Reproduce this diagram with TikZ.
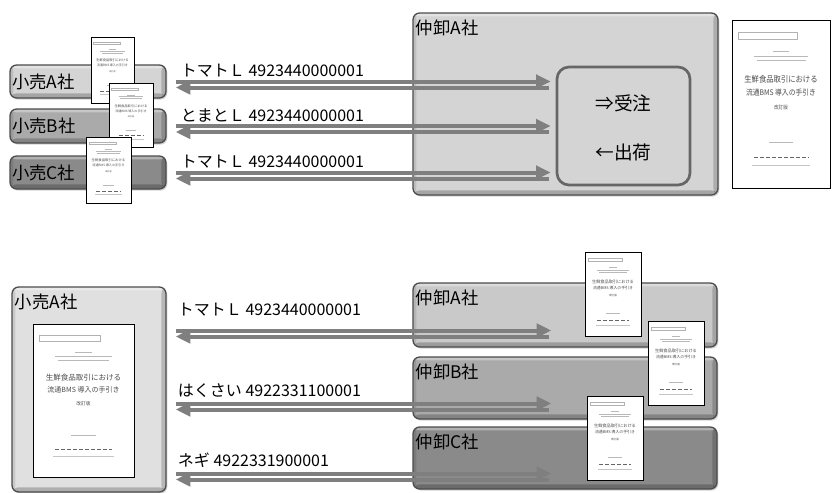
\documentclass[tikz,border=0pt]{standalone}
\usepackage{fontspec}
\setmainfont{Noto Sans CJK JP}
\usetikzlibrary{positioning,calc,arrows.meta,shadows}

\definecolor{paleA}{HTML}{D4D4D4}
\definecolor{paleB}{HTML}{AAAAAA}
\definecolor{paleC}{HTML}{8A8A8A}
\definecolor{paleS}{HTML}{E0E0E0}
\definecolor{linkgray}{HTML}{7F7F7F}

% small cover page of the guide, drawn in a 100 x 150 frame
\tikzset{
  covertext/.style={transform shape, inner sep=0pt, text=black!70},
  cover/.pic={
    \draw[black, line width=0.5pt, fill=white] (0,0) rectangle (100,150);
    \draw[gray!60, line width=0.3pt] (6,11) rectangle (67,17);
    \draw[gray!55, line width=0.5pt] (42,28) -- (58,28) (22,32) -- (78,32) (25,36) -- (75,36);
    \node[covertext, font=\fontsize{5.6}{6}\selectfont] at (50,53) {生鮮食品取引における};
    \node[covertext, font=\fontsize{5.2}{6}\selectfont] at (50,65) {流通BMS 導入の手引き};
    \node[covertext, font=\fontsize{3.5}{4}\selectfont] at (50,78) {改訂版};
    \draw[gray!55, line width=0.5pt] (38,109) -- (62,109);
    \draw[black!60, line width=0.9pt, dash pattern=on 3pt off 1.5pt] (22,123) -- (78,123);
    \draw[gray!45, line width=0.4pt] (20,130) -- (80,130);
  },
  % light top rim and dark lower/right rim of the rounded boxes
  bevel/.style={path picture={
    \fill[white, opacity=0.35] (path picture bounding box.north west)
      rectangle ([yshift=-2.5pt]path picture bounding box.north east);
    \fill[black, opacity=0.22] ([yshift=3.5pt]path picture bounding box.south west)
      rectangle (path picture bounding box.south east);
    \fill[black, opacity=0.18] ([xshift=-3.5pt]path picture bounding box.north east)
      rectangle (path picture bounding box.south east);
    \fill[black, opacity=0.10] (path picture bounding box.north west)
      rectangle ([xshift=2.5pt]path picture bounding box.south west);
  }}
}

\begin{document}
\begin{tikzpicture}[
    x=0.75pt, y=-0.75pt,
    firm/.style={rectangle, rounded corners=5pt, draw=black!70, line width=1pt, bevel,
      drop shadow={shadow xshift=1pt, shadow yshift=-1.2pt, opacity=0.35}},
    firmname/.style={inner sep=2pt, font=\fontsize{13}{15}\selectfont},
    topname/.style={firmname, anchor=north west, yshift=-3.5pt, xshift=0.5pt},
    code/.style={anchor=west, inner sep=0pt, font=\fontsize{12}{14}\selectfont},
    fwd/.style={-{Triangle[length=11pt, width=10pt]}, line width=3pt, draw=linkgray},
    back/.style={{Triangle[length=11pt, width=10pt]}-, line width=3pt, draw=linkgray}
]
\useasboundingbox (0,0) rectangle (833,493);

% ---------- one wholesaler, three retailers ----------
% Wholesaler A
\node[firm, fill=paleA, minimum width=228.75pt, minimum height=136.5pt,
  label={[topname]north west:仲卸A社}] (wsa) at (565.5,104) {};
\node[rectangle, rounded corners=9pt, draw=black!60, line width=2pt, fill=paleA,
  minimum width=99.75pt, minimum height=88.5pt] (ord) at (623.5,126) {};
\node[font=\fontsize{14}{16}\selectfont] (recv) at ($(ord.center)+(0,-23)$) {⇒受注};
\node[font=\fontsize{14}{16}\selectfont] (ship) at ($(ord.center)+(0,26)$) {←出荷};

% Retailers
\node[firm, fill=paleA, minimum width=117pt, minimum height=24.75pt,
  label={[firmname, anchor=west]west:小売A社}] (ra) at (88,81.5) {};
\node[firm, fill=paleB, minimum width=117pt, minimum height=25.5pt,
  label={[firmname, anchor=west]west:小売B社}] (rb) at (88,126) {};
\node[firm, fill=paleC, minimum width=117pt, minimum height=24.75pt,
  label={[firmname, anchor=west]west:小売C社}] (rc) at (88,172.5) {};

% Guides held by each retailer
\pic[xscale=0.43, yscale=0.44] at (91,37) {cover};
\pic[xscale=0.44, yscale=0.43] at (109,83) {cover};
\pic[xscale=0.45, yscale=0.44] at (86,137) {cover};

% Guide on its own
\pic[xscale=0.98, yscale=1.12] at (732,20) {cover};

% Codes and flows
\foreach \r/\txt in {ra/トマトＬ 4923440000001, rb/とまとＬ 4923440000001, rc/トマトＬ 4923440000001} {
  \node[code] (c\r) at ($(\r.east)+(14,-10.5)$) {\txt};
  \draw[fwd] ($(\r.east)+(9,0)$) -- ($(\r.east -| ord.west)+(-5,0)$);
  \draw[back] ($(\r.east)+(9,6)$) -- ($(\r.east -| ord.west)+(-7,6)$);
}

% ---------- one retailer, three wholesalers ----------
% Retailer A
\node[firm, fill=paleS, minimum width=115.5pt, minimum height=153.75pt,
  label={[topname]north west:小売A社}] (sa) at (89,389.5) {};
\pic[xscale=1.01, yscale=1.02] at (33,324) {cover};

% Wholesalers
\node[firm, fill=paleA!95!black, minimum width=228pt, minimum height=48pt,
  label={[topname]north west:仲卸A社}] (wa) at (565,315) {};
\node[firm, fill=paleB, minimum width=228pt, minimum height=46.5pt,
  label={[topname]north west:仲卸B社}] (wb) at (565,388) {};
\node[firm, fill=paleC, minimum width=228pt, minimum height=46.5pt,
  label={[topname]north west:仲卸C社}] (wc) at (565,458) {};

% Codes and flows
\node[code] (cwa) at ($(sa.east |- wa.west)+(11,-5)$) {トマトＬ 4923440000001};
\node[code] (cwb) at ($(sa.east |- wb.west)+(11,3)$) {はくさい 4922331100001};
\node[code] (cwc) at ($(sa.east |- wc.west)+(11,2.5)$) {ネギ 4922331900001};
\foreach \w in {wa, wb, wc} {
  \draw[fwd] ($(sa.east |- \w.west)+(9,15.5)$) -- ($(\w.west)+(139,15.5)$);
  \draw[back] ($(sa.east |- \w.west)+(9,21.5)$) -- ($(\w.west)+(137,21.5)$);
}

% Guides held by each wholesaler
\pic[xscale=0.56, yscale=0.56] at (585,252) {cover};
\pic[xscale=0.56, yscale=0.56] at (648,321) {cover};
\pic[xscale=0.56, yscale=0.56] at (587,396) {cover};

\end{tikzpicture}
\end{document}
